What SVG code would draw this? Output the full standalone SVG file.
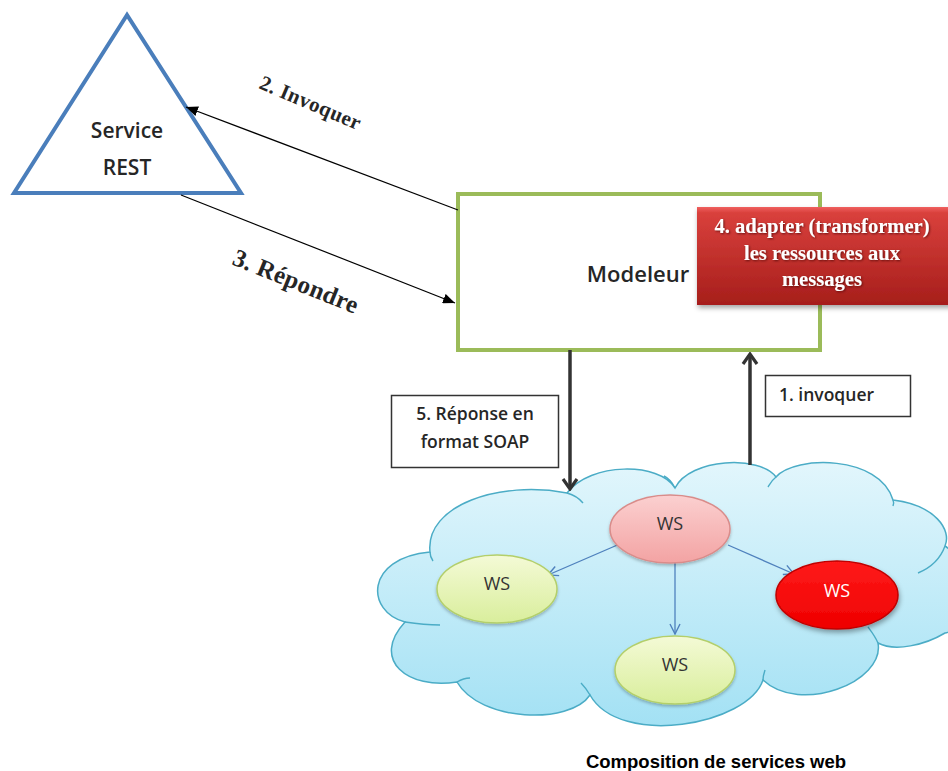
<svg xmlns="http://www.w3.org/2000/svg" width="948" height="771" viewBox="0 0 948 771">
  <style>
    .cal { font-family: "Open Sans", "Liberation Sans", sans-serif; font-weight: 600; fill: #262626; }
    .tnr { font-family: "Liberation Serif", "Times New Roman", serif; font-weight: bold; }
    .ws { font-family: "Open Sans", "Liberation Sans", sans-serif; font-size: 18px; fill: #333333; text-anchor: middle; }
    .thin { stroke: #000000; stroke-width: 1.2; fill: none; }
    .thick { stroke: #333333; stroke-width: 3.5; fill: none; }
    .blue { stroke: #4f81bd; stroke-width: 1.3; fill: none; }
    .hook { stroke: #4bacc6; stroke-width: 1.4; fill: none; }
  </style>
  <defs>
    <marker id="tri" viewBox="0 0 12 10" refX="12" refY="5" markerWidth="12" markerHeight="10" markerUnits="userSpaceOnUse" orient="auto">
      <path d="M0,0 L12,5 L0,10 z" fill="#000000"/>
    </marker>
    <marker id="chev" viewBox="0 0 14 18" refX="12" refY="9" markerWidth="14" markerHeight="18" markerUnits="userSpaceOnUse" orient="auto">
      <path d="M2,2 L12,9 L2,16" fill="none" stroke="#333333" stroke-width="3.2" stroke-linejoin="miter"/>
    </marker>
    <marker id="chevBlue" viewBox="0 0 12 12" refX="11" refY="6" markerWidth="12" markerHeight="12" markerUnits="userSpaceOnUse" orient="auto">
      <path d="M1,1 L11,6 L1,11" fill="none" stroke="#4f81bd" stroke-width="1.4"/>
    </marker>
    <linearGradient id="cloudFill" x1="0" y1="0" x2="0" y2="1">
      <stop offset="0" stop-color="#e2f6fc"/>
      <stop offset="1" stop-color="#a3e1f4"/>
    </linearGradient>
    <linearGradient id="pinkFill" x1="0" y1="0" x2="0" y2="1">
      <stop offset="0" stop-color="#fbd0d0"/>
      <stop offset="1" stop-color="#f3a3a3"/>
    </linearGradient>
    <linearGradient id="greenFill" x1="0" y1="0" x2="0" y2="1">
      <stop offset="0" stop-color="#f4fad6"/>
      <stop offset="1" stop-color="#d9ee9c"/>
    </linearGradient>
    <linearGradient id="redFill" x1="0" y1="0" x2="0" y2="1">
      <stop offset="0" stop-color="#ff1a1a"/>
      <stop offset="1" stop-color="#ee0000"/>
    </linearGradient>
    <linearGradient id="boxRed" x1="0" y1="0" x2="0" y2="1">
      <stop offset="0" stop-color="#f06060"/>
      <stop offset="0.06" stop-color="#d9403c"/>
      <stop offset="1" stop-color="#a61e1b"/>
    </linearGradient>
    <filter id="shadow" x="-10%" y="-10%" width="130%" height="140%">
      <feDropShadow dx="1" dy="3" stdDeviation="2.5" flood-color="#000000" flood-opacity="0.35"/>
    </filter>
    <filter id="softShadow" x="-10%" y="-10%" width="130%" height="140%">
      <feDropShadow dx="0" dy="2" stdDeviation="1.5" flood-color="#000000" flood-opacity="0.25"/>
    </filter>
    <filter id="txtShadow" x="-5%" y="-20%" width="110%" height="150%">
      <feDropShadow dx="1" dy="1" stdDeviation="0.8" flood-color="#400000" flood-opacity="0.7"/>
    </filter>
  </defs>

  <rect width="948" height="771" fill="#ffffff"/>

  <!-- REST service triangle -->
  <g id="service-rest">
    <polygon points="127,15 14,193 241,193" fill="#ffffff" stroke="#4a7ebb" stroke-width="4" stroke-linejoin="miter"/>
    <text class="cal" x="127" y="138" font-size="21" text-anchor="middle">Service</text>
    <text class="cal" x="127" y="175" font-size="21" text-anchor="middle">REST</text>
  </g>

  <!-- Modeler box -->
  <g id="modeleur">
    <rect x="458" y="194" width="362" height="156" fill="#ffffff" stroke="#9bbb59" stroke-width="4"/>
    <text class="cal" x="638" y="282" font-size="22" text-anchor="middle">Modeleur</text>
  </g>

  <!-- Adapter step (red box) -->
  <g id="adapter">
    <rect x="697" y="207" width="256" height="98" fill="url(#boxRed)" filter="url(#shadow)"/>
    <g class="tnr" font-size="20.6" fill="#ffffff" text-anchor="middle" filter="url(#txtShadow)">
      <text x="822" y="233">4. adapter (transformer)</text>
      <text x="822" y="260">les ressources aux</text>
      <text x="822" y="286">messages</text>
    </g>
  </g>

  <!-- Label boxes -->
  <g id="label-soap">
    <rect x="391.5" y="395.5" width="167" height="72" fill="#ffffff" stroke="#333333" stroke-width="1.5"/>
    <text class="cal" x="475" y="420" font-size="17.5" text-anchor="middle">5. Réponse en</text>
    <text class="cal" x="475" y="448" font-size="17.5" text-anchor="middle">format SOAP</text>
  </g>
  <g id="label-invoquer">
    <rect x="765.5" y="375.5" width="145" height="41" fill="#ffffff" stroke="#333333" stroke-width="1.5"/>
    <text class="cal" x="779" y="401" font-size="17.5">1. invoquer</text>
  </g>

  <!-- Web service composition cloud -->
  <g id="cloud">
    <path d="M405,622 C366,612 364,558 430,552 C425,505 500,480 567,493 C590,462 660,462 675,488 C690,458 760,455 776,477 C795,455 880,455 893,500 C935,505 952,530 945,546 C968,560 975,628 945,633 C925,645 895,652 878,643 C885,682 800,715 763,680 C748,725 620,748 590,695 C570,725 480,722 457,682 C408,690 370,660 405,622 Z" fill="url(#cloudFill)" stroke="#4bacc6" stroke-width="1.5"/>
    <path class="hook" d="M430,552 C430,556 431,558 433,561"/>
    <path class="hook" d="M567,493 C574,495 579,498 583,503"/>
    <path class="hook" d="M675,488 C672,482 668,478 664,476"/>
    <path class="hook" d="M776,477 C772,480 770,484 768,487"/>
    <path class="hook" d="M893,500 C894,502 894,503 893,506"/>
    <path class="hook" d="M945,546 C940,560 930,568 918,573"/>
    <path class="hook" d="M878,643 C875,636 871,631 868,627"/>
    <path class="hook" d="M763,680 C763,676 764,673 765,670"/>
    <path class="hook" d="M590,695 C587,690 584,686 581,683"/>
    <path class="hook" d="M457,682 C462,679 466,678 470,678"/>
    <path class="hook" d="M405,622 C418,624 430,625 440,625"/>
  </g>

  <!-- Connectors -->
  <g id="connectors">
    <line class="thin" x1="458" y1="210" x2="186" y2="107" marker-end="url(#tri)"/>
    <line class="thin" x1="181" y1="195" x2="455" y2="303" marker-end="url(#tri)"/>
    <line class="thick" x1="570" y1="350" x2="570" y2="489" marker-end="url(#chev)"/>
    <line class="thick" x1="750" y1="465" x2="750" y2="354" marker-end="url(#chev)"/>
    <line class="blue" x1="622" y1="543" x2="548" y2="575" marker-end="url(#chevBlue)"/>
    <line class="blue" x1="675" y1="563" x2="675" y2="634" marker-end="url(#chevBlue)"/>
    <line class="blue" x1="728" y1="545" x2="794" y2="574" marker-end="url(#chevBlue)"/>
  </g>

  <!-- Connector labels -->
  <g id="connector-labels" class="tnr" fill="#262626">
    <text x="258" y="88" font-size="21" letter-spacing="0.4" transform="rotate(23 258 88)">2. Invoquer</text>
    <text x="231" y="264" font-size="25" letter-spacing="0.3" transform="rotate(22 231 264)">3. Répondre</text>
  </g>

  <!-- Web services -->
  <g id="ws-top">
    <ellipse cx="670" cy="529" rx="60" ry="34" fill="url(#pinkFill)" stroke="#d98c8a" stroke-width="1.5" filter="url(#softShadow)"/>
    <text class="ws" x="670" y="530">WS</text>
  </g>
  <g id="ws-left">
    <ellipse cx="497" cy="589" rx="60" ry="34" fill="url(#greenFill)" stroke="#b3cf6a" stroke-width="1.5" filter="url(#softShadow)"/>
    <text class="ws" x="497" y="590">WS</text>
  </g>
  <g id="ws-bottom">
    <ellipse cx="675" cy="670" rx="60" ry="34" fill="url(#greenFill)" stroke="#b3cf6a" stroke-width="1.5" filter="url(#softShadow)"/>
    <text class="ws" x="675" y="671">WS</text>
  </g>
  <g id="ws-right">
    <ellipse cx="837" cy="595" rx="61" ry="34" fill="url(#redFill)" stroke="#c00000" stroke-width="1.5" filter="url(#shadow)"/>
    <text class="ws" x="837" y="597" style="fill:#ffffff">WS</text>
  </g>

  <text x="716" y="768" font-family="Liberation Sans, Arial, sans-serif" font-weight="bold" font-size="18.5" fill="#000000" text-anchor="middle">Composition de services web</text>
</svg>
